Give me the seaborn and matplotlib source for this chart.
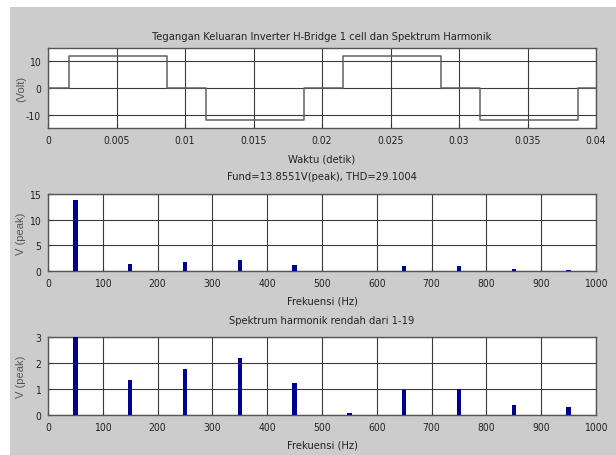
import numpy as np
import pandas as pd
import seaborn as sns
import matplotlib.pyplot as plt
import matplotlib.font_manager as fm
from matplotlib.patches import Rectangle

# inverter output voltage (square wave with dead band), switching instants in seconds
t_switch = [0, 0.0015, 0.0087, 0.0115, 0.0187, 0.0215, 0.0287, 0.0315, 0.0387, 0.04]
v_level = [0, 12, 0, -12, 0, 12, 0, -12, 0, 0]

# odd harmonics 1..19 (50 Hz fundamental)
freq_hz = [50, 150, 250, 350, 450, 550, 650, 750, 850, 950]
v_peak = [13.8551, 1.35, 1.76, 2.18, 1.22, 0.08, 0.97, 1.01, 0.37, 0.29]

t_ticks = [0, 0.005, 0.01, 0.015, 0.02, 0.025, 0.03, 0.035, 0.04]
t_ticklabels = ['0', '0.005', '0.01', '0.015', '0.02', '0.025', '0.03', '0.035', '0.04']
f_ticks = [0, 100, 200, 300, 400, 500, 600, 700, 800, 900, 1000]

title_top = 'Tegangan Keluaran Inverter H-Bridge 1 cell dan Spektrum Harmonik'
title_mid = 'Fund=13.8551V(peak), THD=29.1004'
title_bot = 'Spektrum harmonik rendah dari 1-19'

sns.set_style('ticks')

# matlab screenshot uses a narrow font; use a condensed face if one is installed
narrow = None
for fam in ['Liberation Sans Narrow', 'DejaVu Sans']:
    try:
        path = fm.findfont(fm.FontProperties(family=fam, stretch='condensed'),
                           fallback_to_default=False)
    except Exception:
        continue
    if 'narrow' in path.lower() or 'condensed' in path.lower():
        narrow = fam
        break
if narrow is not None:
    plt.rcParams['font.family'] = [narrow, 'DejaVu Sans']
    plt.rcParams['font.stretch'] = 'condensed'
    fs_title, fs_tick = (9, 7.8) if narrow.startswith('Liberation') else (8, 7.5)
else:
    plt.rcParams['font.family'] = ['Liberation Sans', 'DejaVu Sans']
    fs_title, fs_tick = 7.9, 6.8
plt.rcParams['axes.unicode_minus'] = False

W, H = 616, 456
fig = plt.figure(figsize=(W / 100, H / 100), dpi=100, facecolor='white')
# matlab-like gray figure window
fig.patches.append(Rectangle((10 / W, 0), 1, 1 - 8 / H, transform=fig.transFigure,
                             facecolor='#cccccc', edgecolor='none', zorder=-10))


def make_ax(top_px, bottom_px):
    left, right = 48, 596
    return fig.add_axes([left / W, 1 - bottom_px / H, (right - left) / W, (bottom_px - top_px) / H])


ax1 = make_ax(49, 129)
ax2 = make_ax(195, 272)
ax3 = make_ax(338, 416)

wave = pd.DataFrame({'t': t_switch, 'v': v_level})
sns.lineplot(data=wave, x='t', y='v', ax=ax1, drawstyle='steps-post',
             color='#606060', linewidth=1.1, zorder=3)

spec = pd.DataFrame({'f': freq_hz, 'v': v_peak})
for ax in (ax2, ax3):
    sns.barplot(data=spec, x='f', y='v', ax=ax, native_scale=True, width=0.08,
                color='#000090', saturation=1, edgecolor='#000090', linewidth=0, zorder=3)

ax1.set_xlim(0, 0.04)
ax1.set_ylim(-15, 15)
ax1.set_xticks(t_ticks)
ax1.set_xticklabels(t_ticklabels)
ax1.set_yticks([-10, 0, 10])

ax2.set_xlim(0, 1000)
ax2.set_ylim(0, 15)
ax2.set_yticks([0, 5, 10, 15])
ax3.set_xlim(0, 1000)
ax3.set_ylim(0, 3)
ax3.set_yticks([0, 1, 2, 3])
for ax in (ax2, ax3):
    ax.set_xticks(f_ticks)

labels = [
    (ax1, title_top, 'Waktu (detik)', '(Volt)', 80, 12),
    (ax2, title_mid, 'Frekuensi (Hz)', 'V (peak)', 77, 18),
    (ax3, title_bot, 'Frekuensi (Hz)', 'V (peak)', 78, 17),
]
for ax, title, xlab, ylab, h_px, tpad in labels:
    ax.set_facecolor('white')
    ax.grid(True, color='#3a3a3a', linewidth=0.8, zorder=1)
    ax.set_axisbelow(True)
    for sp in ax.spines.values():
        sp.set_color('#555555')
        sp.set_linewidth(1.0)
        sp.set_visible(True)
    ax.tick_params(direction='in', length=3, width=0.8, colors='#333333',
                   labelsize=fs_tick, pad=5, labelcolor='#222222')
    ax.set_title(title, fontsize=fs_title, color='#222222', y=1 + tpad / h_px, pad=0, va='center')
    ax.set_xlabel(xlab, fontsize=fs_title, color='#222222')
    ax.xaxis.set_label_coords(0.5, -30 / h_px)
    ax.xaxis.label.set_va('center')
    ax.set_ylabel(ylab, fontsize=8, color='#555555', family=['Liberation Sans', 'DejaVu Sans'],
                  stretch='normal')
    ax.yaxis.set_label_coords(-27 / 548, 0.5)
    ax.yaxis.label.set_va('center')

fig.savefig('out.png', dpi=100, facecolor=fig.get_facecolor())
